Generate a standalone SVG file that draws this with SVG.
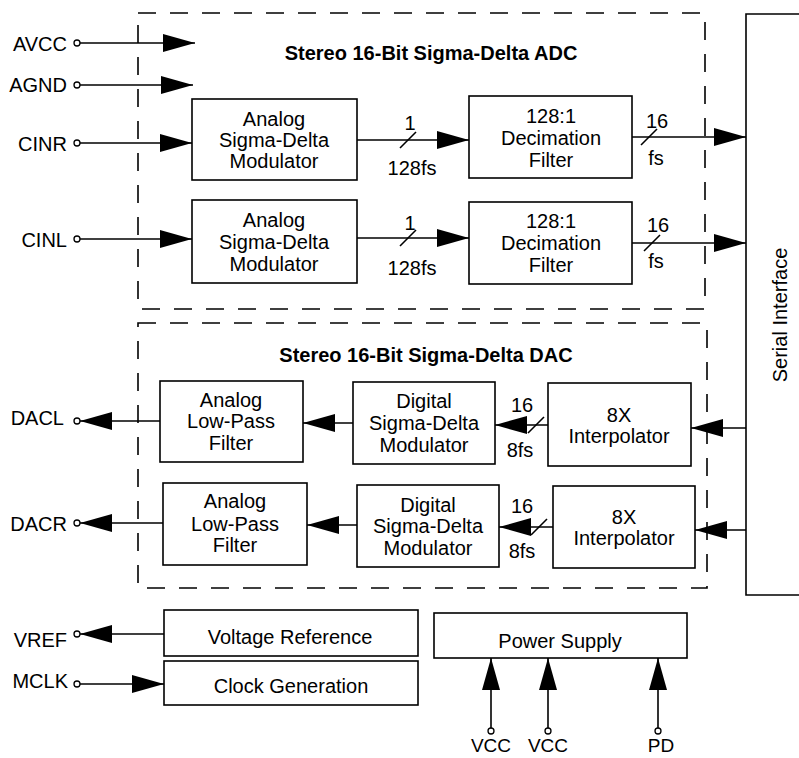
<svg xmlns="http://www.w3.org/2000/svg" width="799" height="758" viewBox="0 0 799 758">
<style>
.box{fill:#fff;stroke:#000;stroke-width:1.6}
.dash{fill:none;stroke:#000;stroke-width:1.6;stroke-dasharray:18 14}
.w{stroke:#000;stroke-width:1.6;fill:none}
.a{marker-end:url(#ah)}
.pin{fill:#fff;stroke:#000;stroke-width:1.3}
text{font-family:"Liberation Sans",Arial,sans-serif;font-size:20px;fill:#000}
.c{text-anchor:middle}
.e{text-anchor:end}
.t{font-weight:bold}
.s{font-size:19px}
</style>
<defs>
<marker id="ah" markerUnits="userSpaceOnUse" markerWidth="32" markerHeight="18" refX="32" refY="9" orient="auto" viewBox="0 0 32 18">
<path d="M0,0 L32,9 L0,18 Z" fill="#000"/>
</marker>
</defs>

<g id="adc-section">
<rect class="dash" x="138" y="13" width="567" height="296"/>
<text class="c t" x="431" y="60">Stereo 16-Bit Sigma-Delta ADC</text>
</g>
<g id="dac-section">
<rect class="dash" x="138" y="323" width="569" height="265"/>
<text class="c t" x="426" y="362">Stereo 16-Bit Sigma-Delta DAC</text>
</g>

<g id="connectors">
<line class="w a" x1="80" y1="43" x2="195" y2="43"/>
<line class="w a" x1="80" y1="85" x2="193" y2="85"/>
<line class="w a" x1="80" y1="143" x2="192" y2="143"/>
<line class="w a" x1="80" y1="239" x2="192" y2="239"/>
<line class="w a" x1="357" y1="140" x2="469" y2="140"/>
<line class="w a" x1="357" y1="238" x2="469" y2="238"/>
<line class="w a" x1="632" y1="137" x2="746" y2="137"/>
<line class="w a" x1="632" y1="243" x2="746" y2="243"/>
<line class="w a" x1="746" y1="428" x2="691" y2="428"/>
<line class="w a" x1="746" y1="530" x2="695" y2="530"/>
<line class="w a" x1="548" y1="425" x2="495" y2="425"/>
<line class="w a" x1="553" y1="527" x2="499" y2="527"/>
<line class="w a" x1="353" y1="423" x2="303" y2="423"/>
<line class="w a" x1="357" y1="525" x2="307" y2="525"/>
<line class="w a" x1="160" y1="421" x2="80" y2="421"/>
<line class="w a" x1="163" y1="523" x2="80" y2="523"/>
<line class="w a" x1="164" y1="634" x2="80" y2="634"/>
<line class="w a" x1="80" y1="684" x2="164" y2="684"/>
<line class="w a" x1="491" y1="728" x2="491" y2="658"/>
<line class="w a" x1="548" y1="728" x2="548" y2="658"/>
<line class="w a" x1="658" y1="728" x2="658" y2="658"/>
<line class="w" x1="400" y1="148" x2="416" y2="132"/>
<line class="w" x1="400" y1="246" x2="416" y2="230"/>
<line class="w" x1="641" y1="145" x2="657" y2="129"/>
<line class="w" x1="644" y1="251" x2="660" y2="235"/>
<line class="w" x1="528" y1="433" x2="544" y2="417"/>
<line class="w" x1="531" y1="535" x2="547" y2="519"/>
<text class="c" x="410" y="130">1</text>
<text class="c" x="412" y="175">128fs</text>
<text class="c" x="410" y="230">1</text>
<text class="c" x="412" y="275">128fs</text>
<text class="c" x="657" y="128">16</text>
<text class="c" x="656" y="165">fs</text>
<text class="c" x="658" y="232">16</text>
<text class="c" x="656" y="268">fs</text>
<text class="c" x="522" y="412">16</text>
<text class="c" x="520" y="457">8fs</text>
<text class="c" x="522" y="513">16</text>
<text class="c" x="522" y="558">8fs</text>
</g>

<g id="adc-mod-r"><rect class="box" x="192" y="99" width="165" height="81"/>
<text class="c" x="274" y="126">Analog</text><text class="c" x="274" y="147">Sigma-Delta</text><text class="c" x="274" y="168">Modulator</text></g>
<g id="adc-mod-l"><rect class="box" x="192" y="200" width="165" height="83"/>
<text class="c" x="274" y="227">Analog</text><text class="c" x="274" y="249">Sigma-Delta</text><text class="c" x="274" y="271">Modulator</text></g>
<g id="dec-r"><rect class="box" x="469" y="96" width="163" height="82"/>
<text class="c" x="551" y="123">128:1</text><text class="c" x="551" y="145">Decimation</text><text class="c" x="551" y="167">Filter</text></g>
<g id="dec-l"><rect class="box" x="469" y="202" width="163" height="82"/>
<text class="c" x="551" y="228">128:1</text><text class="c" x="551" y="250">Decimation</text><text class="c" x="551" y="272">Filter</text></g>

<g id="lpf-l"><rect class="box" x="160" y="381" width="143" height="81"/>
<text class="c" x="231" y="407">Analog</text><text class="c" x="231" y="428">Low-Pass</text><text class="c" x="231" y="450">Filter</text></g>
<g id="lpf-r"><rect class="box" x="163" y="483" width="144" height="82"/>
<text class="c" x="235" y="508">Analog</text><text class="c" x="235" y="531">Low-Pass</text><text class="c" x="235" y="552">Filter</text></g>
<g id="dsd-l"><rect class="box" x="353" y="382" width="142" height="82"/>
<text class="c" x="424" y="408">Digital</text><text class="c" x="424" y="430">Sigma-Delta</text><text class="c" x="424" y="452">Modulator</text></g>
<g id="dsd-r"><rect class="box" x="357" y="485" width="142" height="82"/>
<text class="c" x="428" y="512">Digital</text><text class="c" x="428" y="533">Sigma-Delta</text><text class="c" x="428" y="555">Modulator</text></g>
<g id="interp-l"><rect class="box" x="548" y="383" width="143" height="83"/>
<text class="c" x="619" y="422">8X</text><text class="c" x="619" y="443">Interpolator</text></g>
<g id="interp-r"><rect class="box" x="553" y="486" width="142" height="82"/>
<text class="c" x="624" y="524">8X</text><text class="c" x="624" y="545">Interpolator</text></g>

<g id="serial"><path class="w" d="M810,14 H746 V595 H810"/>
<text class="c" transform="translate(787,315) rotate(-90)">Serial Interface</text></g>

<g id="vref-box"><rect class="box" x="164" y="610" width="254" height="46"/>
<text class="c" x="290" y="644">Voltage Reference</text></g>
<g id="clock"><rect class="box" x="164" y="661" width="254" height="44"/>
<text class="c" x="291" y="693">Clock Generation</text></g>
<g id="power"><rect class="box" x="434" y="613" width="253" height="45"/>
<text class="c" x="560" y="648">Power Supply</text></g>

<g id="pins">
<circle class="pin" cx="77" cy="43" r="3"/><text class="e" x="67" y="51">AVCC</text>
<circle class="pin" cx="77" cy="85" r="3"/><text class="e" x="67" y="92">AGND</text>
<circle class="pin" cx="77" cy="143" r="3"/><text class="e" x="67" y="151">CINR</text>
<circle class="pin" cx="77" cy="239" r="3"/><text class="e" x="67" y="247">CINL</text>
<circle class="pin" cx="77" cy="421" r="3"/><text class="e" x="64" y="425">DACL</text>
<circle class="pin" cx="77" cy="523" r="3"/><text class="e" x="67" y="531">DACR</text>
<circle class="pin" cx="77" cy="634" r="3"/><text class="e" x="67" y="647">VREF</text>
<circle class="pin" cx="77" cy="684" r="3"/><text class="e" x="68" y="688">MCLK</text>
<circle class="pin" cx="491" cy="731" r="3"/><text class="c s" x="491" y="752">VCC</text>
<circle class="pin" cx="548" cy="731" r="3"/><text class="c s" x="548" y="752">VCC</text>
<circle class="pin" cx="658" cy="731" r="3"/><text class="c s" x="661" y="752">PD</text>
</g>
</svg>
